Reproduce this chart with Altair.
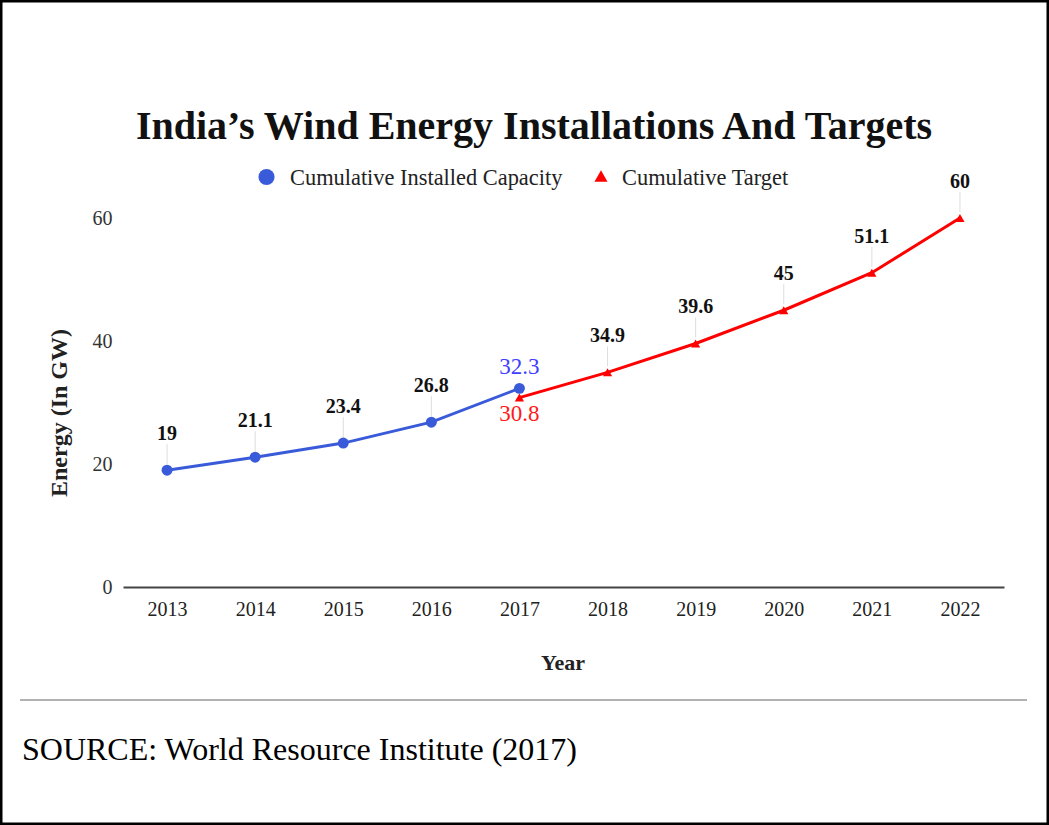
import altair as alt
import pandas as pd

# ---- data ----
years = ["2013", "2014", "2015", "2016", "2017", "2018", "2019", "2020", "2021", "2022"]
installed_years = ["2013", "2014", "2015", "2016", "2017"]
installed_values = [19, 21.1, 23.4, 26.8, 32.3]
target_years = ["2017", "2018", "2019", "2020", "2021", "2022"]
target_values = [30.8, 34.9, 39.6, 45, 51.1, 60]
y_ticks = [0, 20, 40, 60]

title_text = "India\u2019s Wind Energy Installations And Targets"
legend_labels = ["Cumulative Installed Capacity", "Cumulative Target"]
y_title = "Energy (In GW)"
x_title = "Year"
source_text = "SOURCE: World Resource Institute (2017)"

BLUE = "#3a5bd9"
RED = "#ff0000"
SERIF = "Liberation Serif"

W, H = 881, 369

inst = pd.DataFrame({"year": installed_years, "value": installed_values})
targ = pd.DataFrame({"year": target_years, "value": target_values})

xenc = alt.X(
    "year:O",
    scale=alt.Scale(type="point", domain=years, padding=0.5),
    axis=alt.Axis(title=None, labelAngle=0, ticks=False, tickSize=0, grid=False,
                  domainColor="#444444", domainWidth=2, labelPadding=12,
                  labelFont=SERIF, labelFontSize=20, labelColor="#222222"),
)
yenc = alt.Y(
    "value:Q",
    scale=alt.Scale(domain=[0, 60], nice=False, zero=True),
    axis=alt.Axis(title=None, values=y_ticks, grid=False, domain=False, ticks=False,
                  tickSize=0, labelPadding=11, labelFont=SERIF, labelFontSize=20,
                  labelColor="#333333"),
)

# leader lines
lead_inst = alt.Chart(inst).transform_filter("datum.year != '2017'").mark_rule(
    color="#dddddd", strokeWidth=1, yOffset=-6, y2Offset=-26
).encode(x=xenc, y=yenc, y2="value:Q")
lead_targ = alt.Chart(targ).transform_filter("datum.year != '2017'").mark_rule(
    color="#dddddd", strokeWidth=1, yOffset=-6, y2Offset=-26
).encode(x=xenc, y=yenc, y2="value:Q")

line_inst = alt.Chart(inst).mark_line(color=BLUE, strokeWidth=3).encode(x=xenc, y=yenc)
pts_inst = alt.Chart(inst).mark_point(filled=True, color=BLUE, size=120, opacity=1, shape="circle").encode(x=xenc, y=yenc)
line_targ = alt.Chart(targ).mark_line(color=RED, strokeWidth=3).encode(x=xenc, y=yenc)
pts_targ = alt.Chart(targ).mark_point(filled=True, color=RED, size=85, opacity=1, shape="triangle-up").encode(x=xenc, y=yenc)

lab_inst = alt.Chart(inst).transform_filter("datum.year != '2017'").mark_text(
    font=SERIF, fontSize=20, fontWeight="bold", color="#111111", dy=-36, baseline="middle"
).encode(x=xenc, y=yenc, text=alt.Text("value:Q"))
lab_targ = alt.Chart(targ).transform_filter("datum.year != '2017'").mark_text(
    font=SERIF, fontSize=20, fontWeight="bold", color="#111111", dy=-36, baseline="middle"
).encode(x=xenc, y=yenc, text=alt.Text("value:Q"))
lab_inst17 = alt.Chart(inst).transform_filter("datum.year == '2017'").mark_text(
    font=SERIF, fontSize=23, color="#3f3fff", dy=-21, baseline="middle"
).encode(x=xenc, y=yenc, text=alt.Text("value:Q"))
lab_targ17 = alt.Chart(targ).transform_filter("datum.year == '2017'").mark_text(
    font=SERIF, fontSize=23, color="#ff1a1a", dy=16, baseline="middle"
).encode(x=xenc, y=yenc, text=alt.Text("value:Q"))

one = pd.DataFrame({"k": [0]})

def txt(s, x, y, **kw):
    return alt.Chart(pd.DataFrame({"t": [s]})).mark_text(**kw).encode(
        x=alt.value(x), y=alt.value(y), text="t:N")

title = txt(title_text, 411, -79, font=SERIF, fontSize=40, fontWeight="bold",
            color="#111111", align="center", baseline="alphabetic")
leg_c = alt.Chart(one).mark_point(filled=True, shape="circle", size=260, color=BLUE, opacity=1).encode(
    x=alt.value(143.5), y=alt.value(-41))
leg_t1 = txt(legend_labels[0], 167, -40, font=SERIF, fontSize=22.4, color="#222222",
             align="left", baseline="middle")
leg_tri = alt.Chart(one).mark_point(filled=True, shape="triangle-up", size=170, color=RED, opacity=1).encode(
    x=alt.value(478), y=alt.value(-42))
leg_t2 = txt(legend_labels[1], 499, -40, font=SERIF, fontSize=22.4, color="#222222",
             align="left", baseline="middle")
ytitle = txt(y_title, -63, 195, font=SERIF, fontSize=24, fontWeight="bold", color="#222222",
             align="center", baseline="middle", angle=270)
xtitle = txt(x_title, 440, 445, font=SERIF, fontSize=22, fontWeight="bold", color="#222222",
             align="center", baseline="middle")
source = txt(source_text, -101, 532, font=SERIF, fontSize=32, color="#000000",
             align="left", baseline="middle")
sep = alt.Chart(one).mark_rule(color="#999999", strokeWidth=1.5).encode(
    x=alt.value(-103), x2=alt.value(904), y=alt.value(482))
border = alt.Chart(one).mark_rect(filled=False, stroke="#000000", strokeWidth=3).encode(
    x=alt.value(-122), x2=alt.value(925), y=alt.value(-217), y2=alt.value(606))

chart = alt.layer(
    lead_inst, lead_targ, line_inst, line_targ, pts_inst, pts_targ,
    lab_inst, lab_targ, lab_inst17, lab_targ17,
    title, leg_c, leg_t1, leg_tri, leg_t2, ytitle, xtitle, source, sep, border,
).properties(
    width=W, height=H,
    autosize=alt.AutoSizeParams(type="none"),
    padding={"left": 123, "top": 218, "right": 45, "bottom": 238},
    background="white",
).configure_view(stroke=None)

chart.save("out.html", embed_options={"renderer": "svg", "actions": False})
